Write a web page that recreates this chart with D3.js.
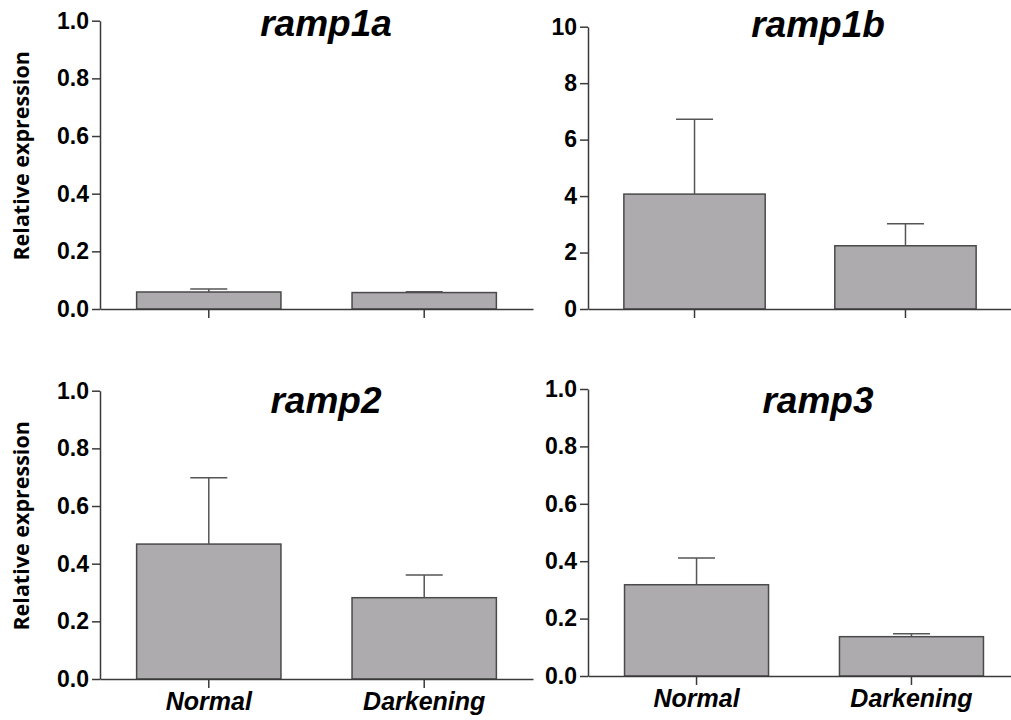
<!DOCTYPE html>
<html>
<head>
<meta charset="utf-8">
<script src="https://cdn.jsdelivr.net/npm/d3@7"></script>
<style>
  body { margin: 0; background: #fff; }
  svg text { font-family: "Liberation Sans", Arial, sans-serif; }
</style>
</head>
<body>
<div id="chart"></div>
<script>
// data
const genes  = ["ramp1a", "ramp1b", "ramp2", "ramp3"];
const groups = ["Normal", "Darkening"];
const means  = [[0.059, 0.057], [4.07, 2.24], [0.468, 0.282], [0.318, 0.137]];
const sems   = [[0.010, 0.003], [2.65, 0.78], [0.230, 0.079], [0.093, 0.010]];
const yMax   = [1, 10, 1, 1];
const yStep  = [0.2, 2, 0.2, 0.2];

// panel boxes (pixel frames for each small chart)
const panels = [
  { x0: 100, x1: 533,  yTop: 20.7, yBot: 309, titleX: 326, titleY: 36,  showCats: false, yLabel: true },
  { x0: 588, x1: 1012, yTop: 26.7, yBot: 309, titleX: 818, titleY: 37,  showCats: false, yLabel: false },
  { x0: 100, x1: 533,  yTop: 390.7, yBot: 679, titleX: 326, titleY: 413, showCats: true,  yLabel: true },
  { x0: 588, x1: 1020, yTop: 389, yBot: 676, titleX: 818, titleY: 413, showCats: true,  yLabel: false }
];

const barFill = "#adabae";
const lineCol = "#3a3a3a";

const svg = d3.select("#chart").append("svg")
  .attr("width", 1011)
  .attr("height", 720);

panels.forEach((p, i) => {
  const g = svg.append("g");

  const x = d3.scaleBand()
    .domain(groups)
    .range([p.x0, p.x1])
    .paddingInner(0.33)
    .paddingOuter(0.17);

  const y = d3.scaleLinear()
    .domain([0, yMax[i]])
    .range([p.yBot, p.yTop]);

  const ticks = d3.range(0, yMax[i] + yStep[i] / 2, yStep[i]);
  const fmt = yMax[i] >= 10 ? d3.format("d") : d3.format(".1f");

  // bars
  const rows = groups.map((grp, j) => ({ grp, m: means[i][j], s: sems[i][j] }));

  g.selectAll("rect.bar")
    .data(rows)
    .join("rect")
    .attr("class", "bar")
    .attr("x", d => x(d.grp))
    .attr("width", x.bandwidth())
    .attr("y", d => y(d.m))
    .attr("height", d => y(0) - y(d.m))
    .attr("fill", barFill)
    .attr("stroke", "#4a4a4a")
    .attr("stroke-width", 1.5);

  // error bars (upper only)
  const cap = 37;
  g.selectAll("line.err")
    .data(rows)
    .join("line")
    .attr("class", "err")
    .attr("x1", d => x(d.grp) + x.bandwidth() / 2)
    .attr("x2", d => x(d.grp) + x.bandwidth() / 2)
    .attr("y1", d => y(d.m))
    .attr("y2", d => y(d.m + d.s))
    .attr("stroke", "#555")
    .attr("stroke-width", 1.5);

  g.selectAll("line.cap")
    .data(rows)
    .join("line")
    .attr("class", "cap")
    .attr("x1", d => x(d.grp) + x.bandwidth() / 2 - cap / 2)
    .attr("x2", d => x(d.grp) + x.bandwidth() / 2 + cap / 2)
    .attr("y1", d => y(d.m + d.s))
    .attr("y2", d => y(d.m + d.s))
    .attr("stroke", "#555")
    .attr("stroke-width", 1.5);

  // y axis
  const yAxis = g.append("g")
    .attr("transform", `translate(${p.x0},0)`)
    .call(d3.axisLeft(y).tickValues(ticks).tickFormat(fmt).tickSize(8).tickSizeOuter(0).tickPadding(3));

  yAxis.selectAll("text")
    .attr("font-size", 23)
    .attr("font-weight", "bold")
    .attr("fill", "#000");

  // x axis
  const xAxis = g.append("g")
    .attr("transform", `translate(0,${p.yBot})`)
    .call(d3.axisBottom(x).tickSize(9).tickSizeOuter(0).tickPadding(4));

  xAxis.selectAll("text")
    .attr("font-size", 25)
    .attr("font-weight", "bold")
    .attr("font-style", "italic")
    .attr("fill", "#000")
    .attr("dy", "0.71em")
    .style("display", p.showCats ? null : "none");

  [yAxis, xAxis].forEach(a => {
    a.select(".domain").attr("stroke", lineCol).attr("stroke-width", 1.5);
    a.selectAll(".tick line").attr("stroke", lineCol).attr("stroke-width", 1.5);
  });

  // title
  g.append("text")
    .attr("x", p.titleX)
    .attr("y", p.titleY)
    .attr("text-anchor", "middle")
    .attr("font-size", 37)
    .attr("font-weight", "bold")
    .attr("font-style", "italic")
    .text(genes[i]);

  // y label
  if (p.yLabel) {
    g.append("text")
      .attr("transform", `translate(29,${(p.yTop + p.yBot) / 2 - 9}) rotate(-90)`)
      .attr("text-anchor", "middle")
      .attr("font-size", 21.5)
      .attr("font-weight", "bold")
      .style("font-family", "'Open Sans', sans-serif")
      .text("Relative expression");
  }
});
</script>
</body>
</html>
